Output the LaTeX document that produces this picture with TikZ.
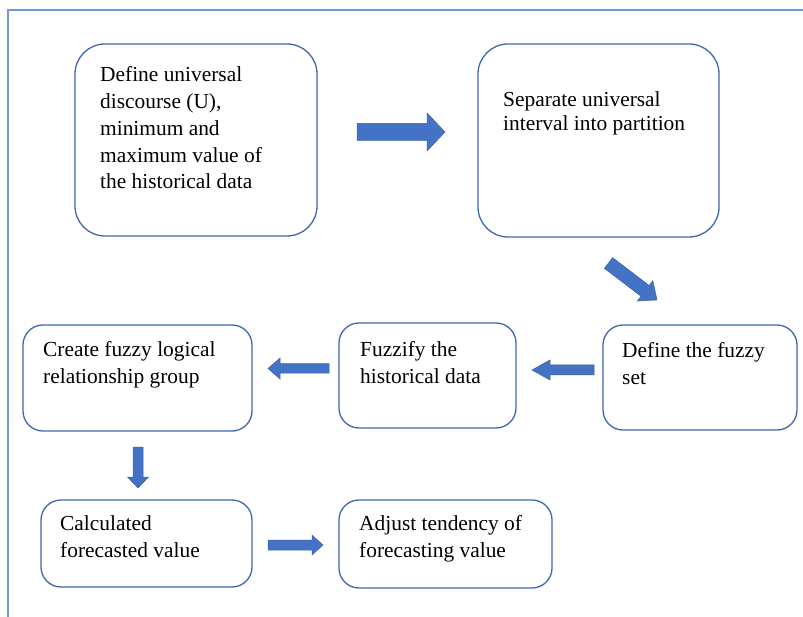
\documentclass[tikz,border=0pt]{standalone}
\usepackage{fontspec}
\setmainfont{Liberation Serif}
\definecolor{boxline}{HTML}{4068B0}
\definecolor{arrowfill}{HTML}{4472C4}
\definecolor{arrowline}{HTML}{3A62AA}
\definecolor{frameline}{HTML}{6D9AD6}
\tikzset{
  boxshape/.style={draw=boxline, line width=1.3pt, fill=white, inner sep=0pt, outer sep=0pt, anchor=north west},
  bigbox/.style={boxshape, rounded corners=30pt},
  smallbox/.style={boxshape, rounded corners=20pt},
  txt/.style={inner sep=0pt, anchor=base west, text=black},
  pics/blockarrow/.style args={#1/#2/#3/#4}{code={
    \fill[arrowfill, draw=arrowline, line width=0.5pt]
      (0,-#2/2) -- ({#1-#4},-#2/2) -- ({#1-#4},-#3/2) -- (#1,0) --
      ({#1-#4},#3/2) -- ({#1-#4},#2/2) -- (0,#2/2) -- cycle;
  }}
}
\newcommand{\boxtext}[2]{\parbox[t]{260pt}{\fontsize{21.4}{#1}\selectfont\raggedright #2}}
\begin{document}
\begin{tikzpicture}[x=1pt, y=-1pt]
\useasboundingbox (0,0) rectangle (803,617);
\fill[white] (0,0) rectangle (803,617);
% frame
\coordinate (fa) at (8,617);
\coordinate (fb) at (8,10);
\coordinate (fc) at (803,10);
\draw[frameline, line width=1.6pt] (fa) -- (fb) -- (fc);

% boxes
\node[bigbox, minimum width=242pt, minimum height=192pt] (b1) at (75,44) {};
\node[bigbox, minimum width=241pt, minimum height=193pt] (b2) at (478,44) {};
\node[smallbox, minimum width=194pt, minimum height=105pt] (b3) at (603,325) {};
\node[smallbox, minimum width=177pt, minimum height=105pt] (b4) at (339,323) {};
\node[smallbox, minimum width=229pt, minimum height=106pt] (b5) at (23,325) {};
\node[smallbox, minimum width=211pt, minimum height=87pt] (b6) at (41,500) {};
\node[smallbox, minimum width=213pt, minimum height=88pt] (b7) at (339,500) {};

% texts
\node[txt] (t1) at (100,82) {\boxtext{26.7}{Define universal\\discourse (U),\\minimum and\\maximum value of\\the historical data}};
\node[txt] (t2) at (503,107) {\boxtext{24}{Separate universal\\interval into partition}};
\node[txt] (t3) at (622,358) {\boxtext{27}{Define the fuzzy\\set}};
\node[txt] (t4) at (360,357) {\boxtext{26.5}{Fuzzify the\\historical data}};
\node[txt] (t5) at (43,357) {\boxtext{26.5}{Create fuzzy logical\\relationship group}};
\node[txt] (t6) at (60,530) {\boxtext{27}{Calculated\\forecasted value}};
\node[txt] (t7) at (359,530) {\boxtext{27}{Adjust tendency of\\forecasting value}};

% block arrows
\pic at (357,132) {blockarrow=88/17/38/18};
\pic[rotate=-37.3] at (608.5,263) {blockarrow=61/13.5/25.5/15};
\pic[rotate=180] at (594,370) {blockarrow=62/10/20/18};
\pic[rotate=180] at (329,368.5) {blockarrow=61/9.5/21/12};
\pic[rotate=-90] at (138,447) {blockarrow=41/10/21/11};
\pic at (268,545) {blockarrow=55/10/20/11};
\end{tikzpicture}
\end{document}
